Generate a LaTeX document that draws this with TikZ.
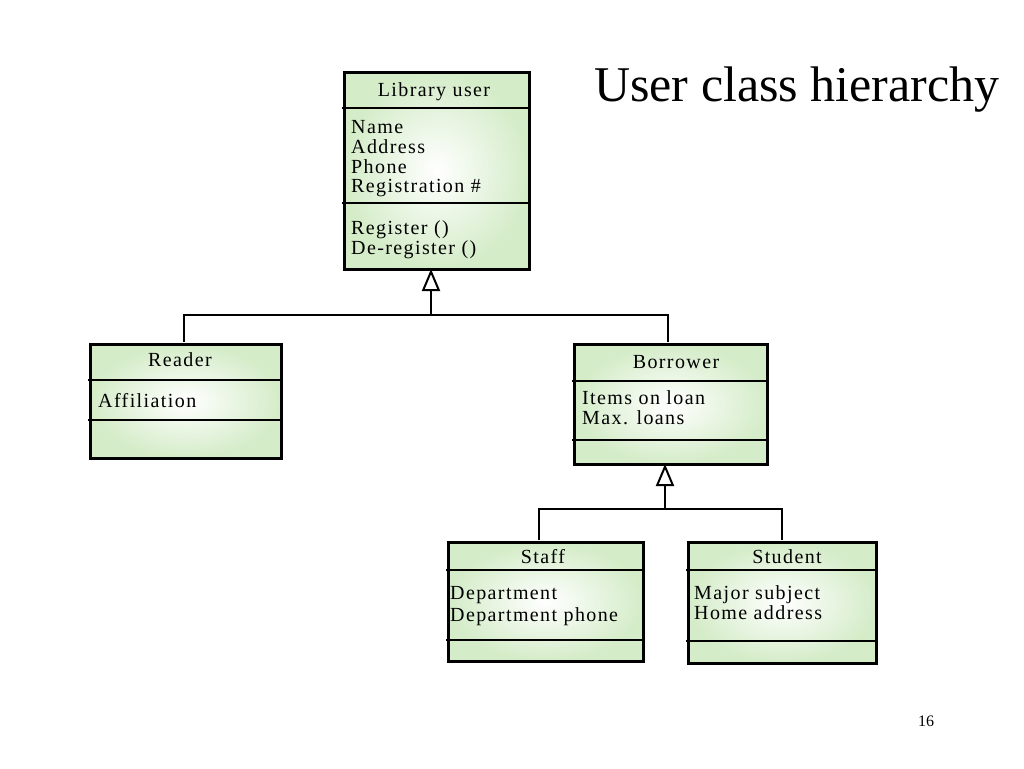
\documentclass[tikz,border=0pt]{standalone}
\usepackage{fontspec}
\setmainfont{Liberation Serif}
\newfontfamily\boxfont[LetterSpace=7]{Liberation Serif}
\usetikzlibrary{arrows.meta}
\definecolor{boxgreen}{RGB}{212,236,200}
\tikzset{
  classbox/.style={draw=black, line width=2.6pt, shading=radial, inner color=white, outer color=boxgreen, inner sep=0pt, anchor=north west},
  divider/.style={draw=black, line width=2pt},
  txt/.style={inner sep=0pt, anchor=base west, font=\boxfont\fontsize{20}{20}\selectfont},
  ctxt/.style={inner sep=0pt, anchor=base, font=\boxfont\fontsize{20}{20}\selectfont},
  conn/.style={draw=black, line width=2pt},
  gen/.style={conn, -{Triangle[open, width=18pt, length=22pt, line width=2pt]}}
}
\begin{document}
\begin{tikzpicture}[x=1pt, y=-1pt]
\useasboundingbox (0,0) rectangle (1024,768);
% Library user
\node[classbox, minimum width=185pt, minimum height=197pt] (lib) at (343,71) {};
\draw[divider] (342,108) -- (528,108);
\draw[divider] (342,203) -- (528,203);
\node[ctxt] (libt) at (434,96) {Library user};
\node[txt] (l1) at (351,133) {Name};
\node[txt] (l2) at (351,153) {Address};
\node[txt] (l3) at (351,173) {Phone};
\node[txt] (l4) at (351,192) {Registration \#};
\node[txt] (l5) at (351,234) {Register ()};
\node[txt] (l6) at (351,254) {De-register ()};
% Reader
\node[classbox, minimum width=191pt, minimum height=114pt] (reader) at (89,343) {};
\draw[divider] (88,380) -- (283,380);
\draw[divider] (88,420) -- (283,420);
\node[ctxt] (readert) at (180,366) {Reader};
\node[txt] (r1) at (98,407) {Affiliation};
% Borrower
\node[classbox, minimum width=193pt, minimum height=120pt] (borrower) at (573,343) {};
\draw[divider] (572,381) -- (766,381);
\draw[divider] (572,440) -- (766,440);
\node[ctxt] (borrowert) at (676,368) {Borrower};
\node[txt] (b1) at (582,404) {Items on loan};
\node[txt] (b2) at (582,424) {Max. loans};
% Staff
\node[classbox, minimum width=195pt, minimum height=119pt] (staff) at (447,541) {};
\draw[divider] (446,570) -- (642,570);
\draw[divider] (446,640) -- (642,640);
\node[ctxt] (stafft) at (543,563) {Staff};
\node[txt] (s1) at (450,599) {Department};
\node[txt] (s2) at (450,621) {Department phone};
% Student
\node[classbox, minimum width=188pt, minimum height=121pt] (student) at (687,541) {};
\draw[divider] (686,570) -- (878,570);
\draw[divider] (686,641) -- (875,641);
\node[ctxt] (studentt) at (787,563) {Student};
\node[txt] (u1) at (694,599) {Major subject};
\node[txt] (u2) at (694,619) {Home address};
% Connectors
\coordinate (j1) at (431,315);
\coordinate (j1b) at (431,294);
\coordinate (libtip) at (431,269);
\draw[conn] (184,342) |- (j1) -| (668,342);
\draw[conn] (j1) -- (j1b);
\draw[gen] (j1b) -- (libtip);
\coordinate (j2) at (665,509);
\coordinate (j2b) at (665,488);
\coordinate (bortip) at (665,464);
\draw[conn] (539,540) |- (j2) -| (782,540);
\draw[conn] (j2) -- (j2b);
\draw[gen] (j2b) -- (bortip);
% Title and page number
\node[inner sep=0pt, anchor=base west, font=\fontsize{50}{52}\selectfont] (title) at (594,101) {User class hierarchy};
\node[inner sep=0pt, anchor=base, font=\fontsize{16}{18}\selectfont] (page) at (926,726) {16};
\end{tikzpicture}
\end{document}
